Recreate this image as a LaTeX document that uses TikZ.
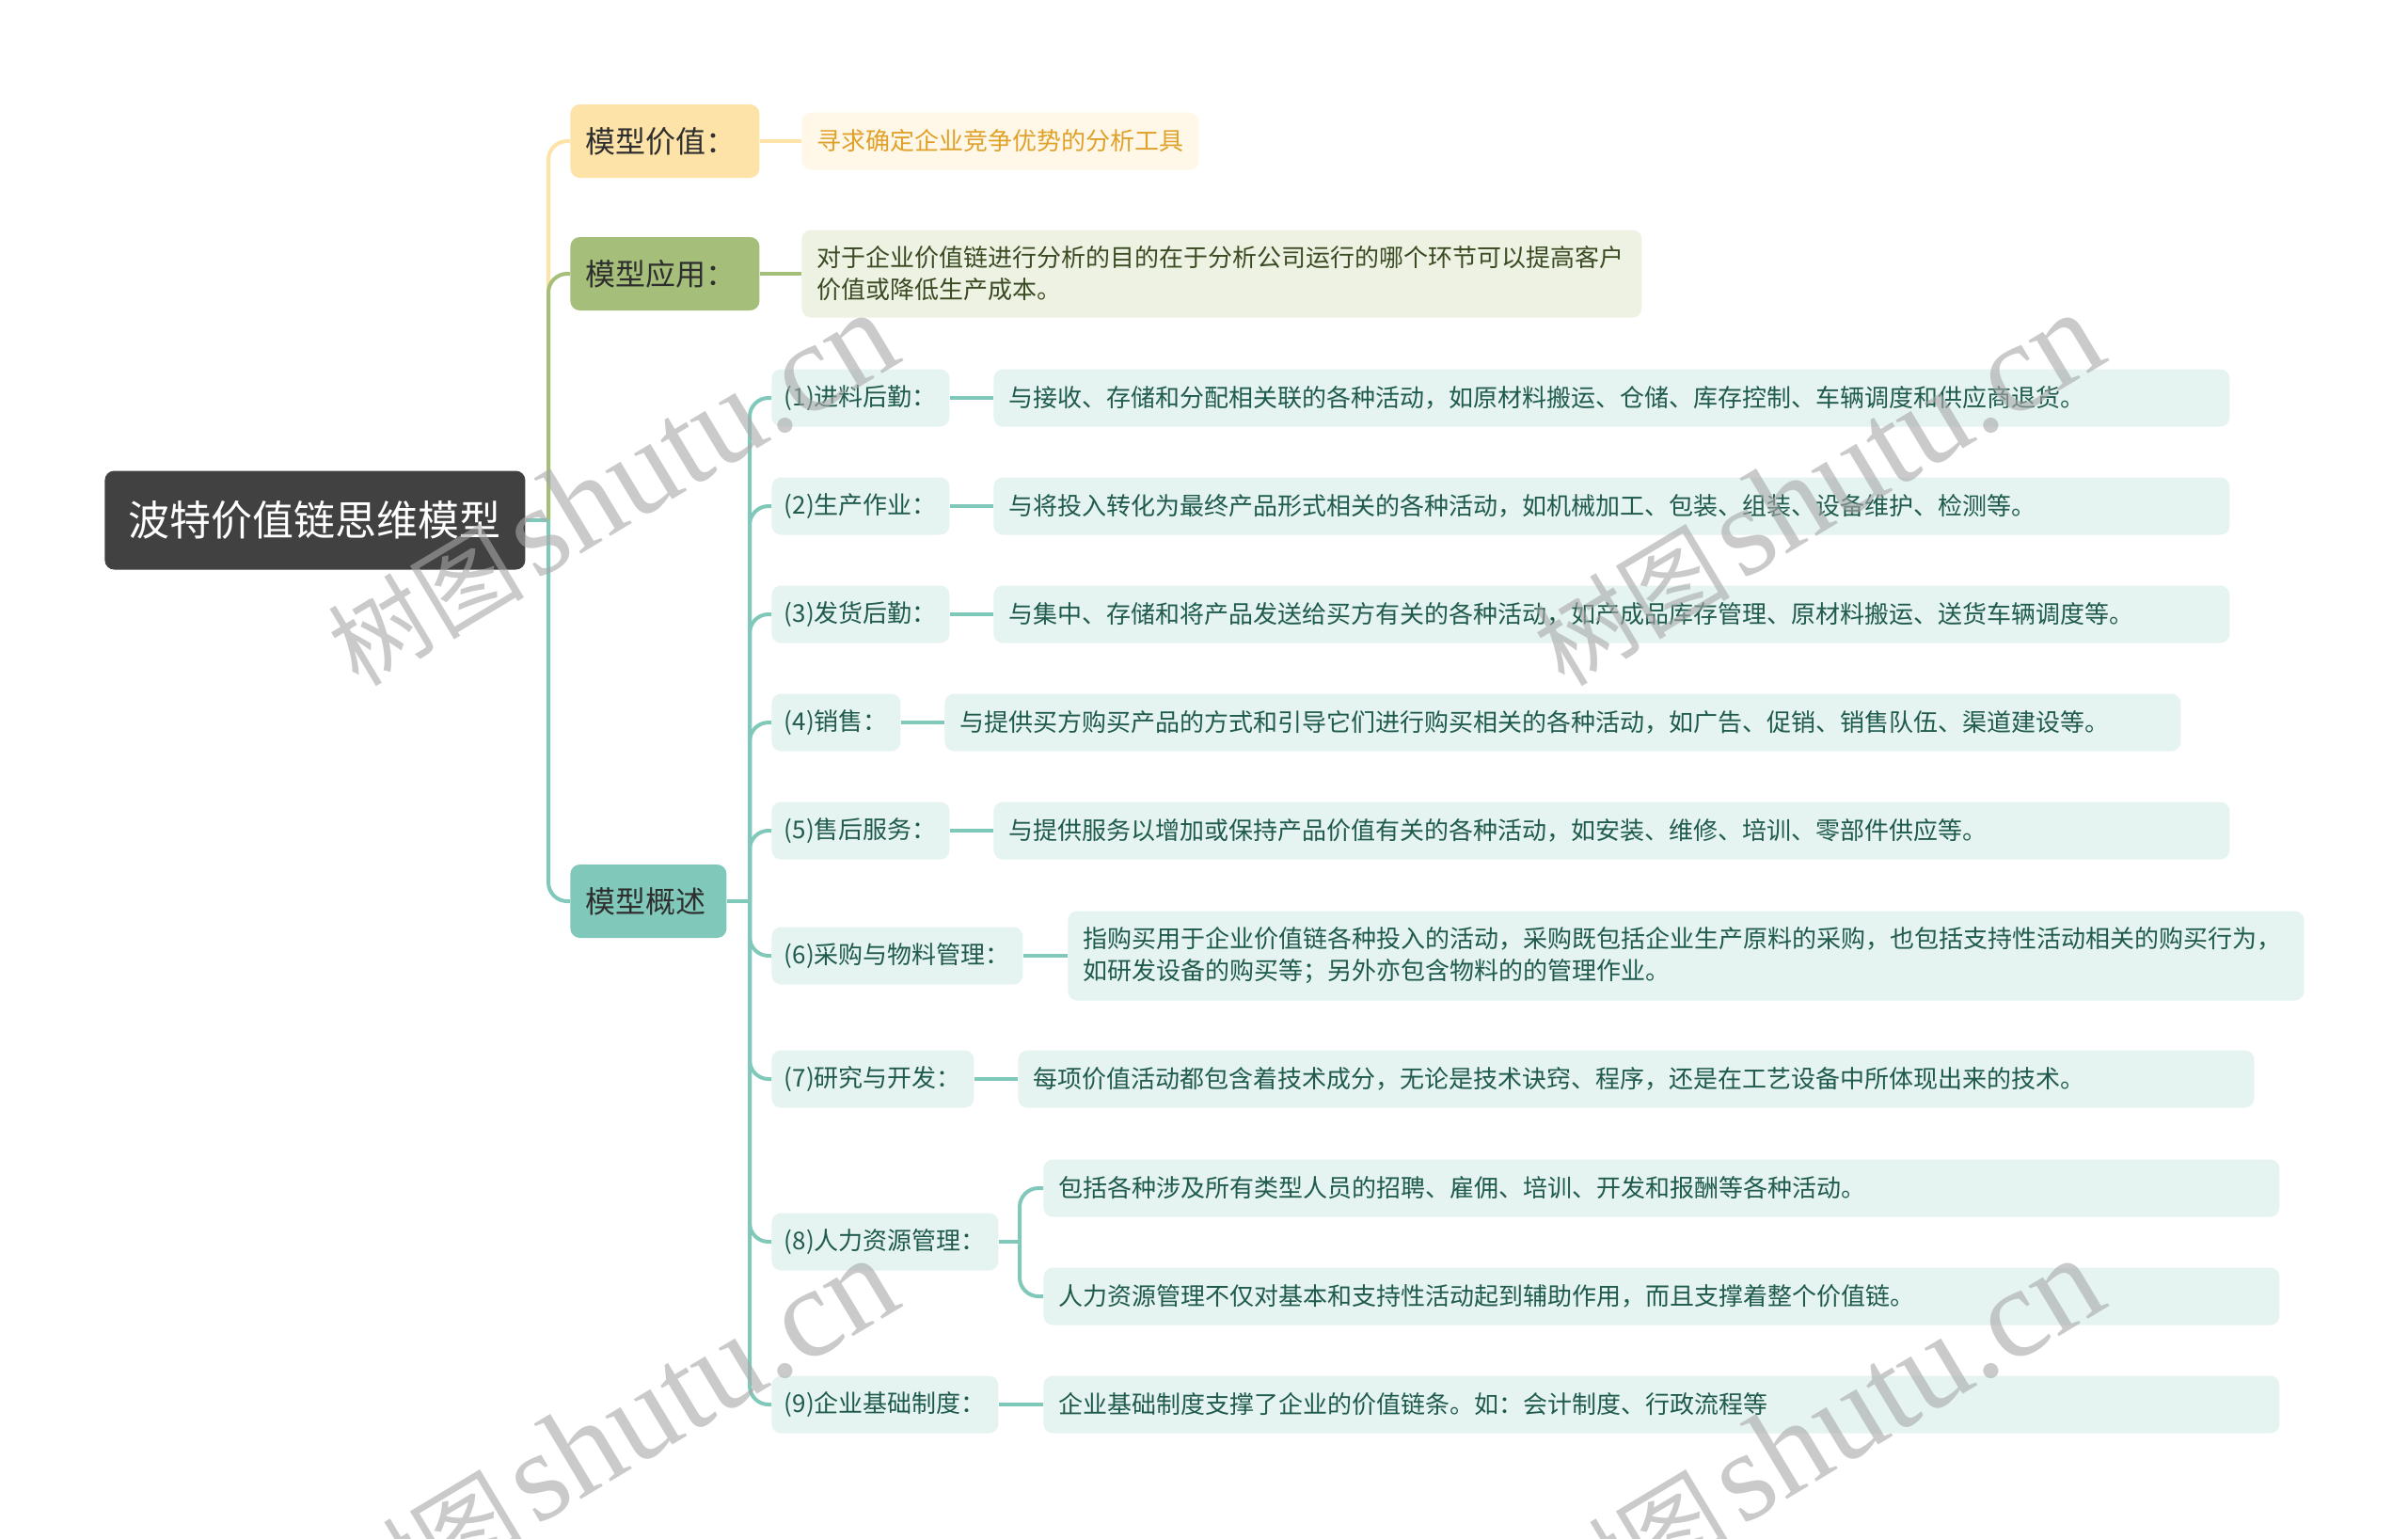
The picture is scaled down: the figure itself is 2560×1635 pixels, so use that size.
\documentclass[tikz,border=0pt]{standalone}
\usepackage{fontspec}
\setmainfont{Noto Sans CJK SC}
\newfontfamily\wmlat{Liberation Serif}
\definecolor{rootc}{HTML}{414141}
\definecolor{yel}{HTML}{FDE3A8}
\definecolor{yelleaf}{HTML}{FFF8E8}
\definecolor{yeltxt}{HTML}{E0A12A}
\definecolor{grn}{HTML}{A5BE7A}
\definecolor{grnleaf}{HTML}{EEF2E3}
\definecolor{grntxt}{HTML}{3A4A22}
\definecolor{teal}{HTML}{80C9BA}
\definecolor{tealleaf}{HTML}{E5F4F1}
\definecolor{tealtxt}{HTML}{1F5A4D}
\definecolor{lonetxt}{HTML}{2E2E2E}
\definecolor{wmc}{HTML}{A8A8A8}
\tikzset{
  rootbox/.style={fill=rootc, rounded corners=5pt, text=white, font=\fontsize{22}{26}\selectfont, minimum width=223.5pt, minimum height=52.5pt, anchor=west, inner sep=0pt},
  lonebox/.style={rounded corners=5pt, font=\fontsize{16}{19}\selectfont, text=lonetxt, minimum height=39pt, anchor=west, inner xsep=8pt, inner ysep=0pt, align=left},
  labbox/.style={fill=tealleaf, rounded corners=5pt, text=tealtxt, font=\fontsize{13}{17}\selectfont, minimum height=30.5pt, anchor=west, inner xsep=6pt, inner ysep=0pt},
  descbox/.style={labbox, text width=641pt, inner xsep=8pt, align=left},
  conn/.style={line width=2pt, rounded corners=10pt},
  wm/.style={text=wmc, opacity=0.6, inner sep=0pt}
}
\begin{document}
\begin{tikzpicture}[x=0.5pt,y=-0.5pt]
\fill[white] (0,0) rectangle (2560,1635);
\useasboundingbox (0,0) rectangle (2560,1635);

% root and first level
\node[rootbox] (root) at (111,553) {波特价值链思维模型};
\node[lonebox, fill=yel, text width=84.5pt] (val) at (606,150) {模型价值：};
\node[lonebox, fill=grn, text width=84.5pt] (app) at (606,291) {模型应用：};
\node[lonebox, fill=teal, text width=67pt] (ovw) at (606,958) {模型概述};

% leaves of value / application
\node[labbox, fill=yelleaf, text=yeltxt, minimum width=209pt, inner xsep=8pt] (valleaf) at (852,150) {寻求确定企业竞争优势的分析工具};
\node[descbox, fill=grnleaf, text=grntxt, text width=430.5pt, minimum height=46.5pt] (appleaf) at (852,291) {对于企业价值链进行分析的目的在于分析公司运行的哪个环节可以提高客户\\价值或降低生产成本。};

% overview items
\node[labbox, minimum width=94.5pt] (l1) at (820,423) {(1)进料后勤：};
\node[descbox] (d1) at (1056,423) {与接收、存储和分配相关联的各种活动，如原材料搬运、仓储、库存控制、车辆调度和供应商退货。};
\node[labbox, minimum width=94.5pt] (l2) at (820,538) {(2)生产作业：};
\node[descbox] (d2) at (1056,538) {与将投入转化为最终产品形式相关的各种活动，如机械加工、包装、组装、设备维护、检测等。};
\node[labbox, minimum width=94.5pt] (l3) at (820,653) {(3)发货后勤：};
\node[descbox] (d3) at (1056,653) {与集中、存储和将产品发送给买方有关的各种活动，如产成品库存管理、原材料搬运、送货车辆调度等。};
\node[labbox, minimum width=68.5pt] (l4) at (820,768) {(4)销售：};
\node[descbox] (d4) at (1004,768) {与提供买方购买产品的方式和引导它们进行购买相关的各种活动，如广告、促销、销售队伍、渠道建设等。};
\node[labbox, minimum width=94.5pt] (l5) at (820,883) {(5)售后服务：};
\node[descbox] (d5) at (1056,883) {与提供服务以增加或保持产品价值有关的各种活动，如安装、维修、培训、零部件供应等。};
\node[labbox, minimum width=133.5pt] (l6) at (820,1016) {(6)采购与物料管理：};
\node[descbox, minimum height=47.5pt] (d6) at (1135,1016) {指购买用于企业价值链各种投入的活动，采购既包括企业生产原料的采购，也包括支持性活动相关的购买行为，\\如研发设备的购买等；另外亦包含物料的的管理作业。};
\node[labbox, minimum width=107.5pt] (l7) at (820,1147) {(7)研究与开发：};
\node[descbox] (d7) at (1082,1147) {每项价值活动都包含着技术成分，无论是技术诀窍、程序，还是在工艺设备中所体现出来的技术。};
\node[labbox, minimum width=120.5pt] (l8) at (820,1320) {(8)人力资源管理：};
\node[descbox] (d8a) at (1109,1263) {包括各种涉及所有类型人员的招聘、雇佣、培训、开发和报酬等各种活动。};
\node[descbox] (d8b) at (1109,1378) {人力资源管理不仅对基本和支持性活动起到辅助作用，而且支撑着整个价值链。};
\node[labbox, minimum width=120.5pt] (l9) at (820,1493) {(9)企业基础制度：};
\node[descbox] (d9) at (1109,1493) {企业基础制度支撑了企业的价值链条。如：会计制度、行政流程等};

% connectors
\coordinate (j0) at (583,553);
\coordinate (j1) at (797,958);
\coordinate (j8) at (1084,1320);
\draw[conn, yel] (j0) |- (val.west);
\draw[conn, grn] (j0) |- (app.west);
\draw[conn, teal] (j0) |- (ovw.west);
\draw[line width=2pt, teal] (root.east) -- (j0);
\draw[line width=2pt, yel] (val.east) -- (valleaf.west);
\draw[line width=2pt, grn] (app.east) -- (appleaf.west);
\draw[line width=2pt, teal] (ovw.east) -- (j1);
\foreach \n in {1,...,9} {\draw[conn, teal] (j1) |- (l\n.west);}
\foreach \n in {1,...,7,9} {\draw[line width=2pt, teal] (l\n.east) -- (d\n.west);}
\draw[line width=2pt, teal] (l8.east) -- (j8);
\draw[conn, teal] (j8) |- (d8a.west);
\draw[conn, teal] (j8) |- (d8b.west);

% watermarks
\foreach \p/\q [count=\k] in {650/520, 1932/520, 650/1525, 1932/1525} {
  \node[wm, rotate=31] (wm\k) at (\p,\q) {{\fontsize{52}{52}\selectfont 树图}\hspace{6pt}{\wmlat\fontsize{68}{68}\selectfont shutu.cn}};
}
\end{tikzpicture}
\end{document}
